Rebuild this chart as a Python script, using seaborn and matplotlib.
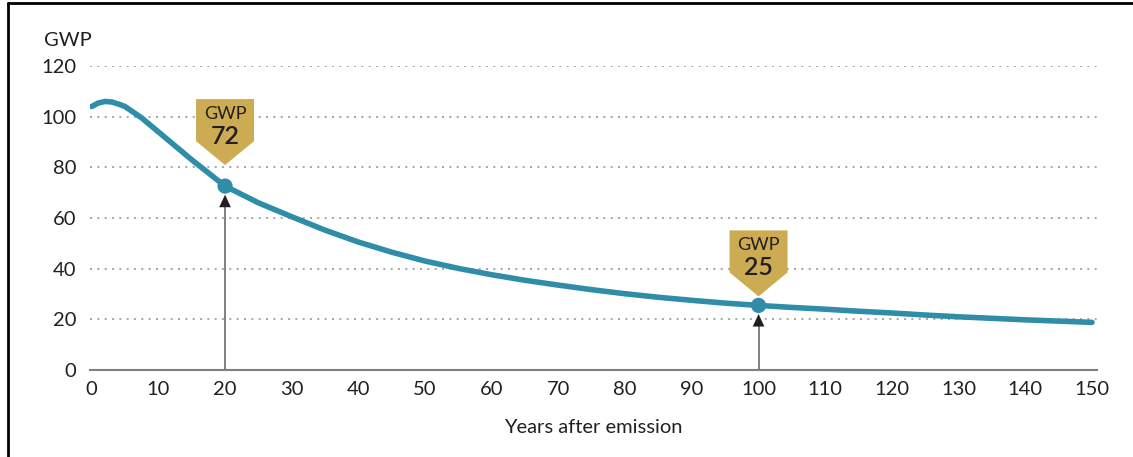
import numpy as np
import pandas as pd
import matplotlib
matplotlib.use("Agg")
import matplotlib.pyplot as plt
import matplotlib.transforms as mtransforms
from matplotlib.patches import Polygon
from matplotlib.lines import Line2D
import seaborn as sns

# curve values
years = [0, 1, 2, 3, 4, 5, 7.5, 10, 12.5, 15, 17.5, 20, 25, 30, 35, 40, 45, 50,
         55, 60, 65, 70, 75, 80, 85, 90, 95, 100, 105, 110, 115, 120, 125, 130,
         135, 140, 145, 150]
gwp = [104, 105.4, 106, 105.8, 105, 104, 99.5, 94, 88.5, 83, 77.8, 72.6, 66,
       60.5, 55.2, 50.5, 46.5, 43, 40.1, 37.6, 35.4, 33.5, 31.7, 30.1, 28.7,
       27.5, 26.4, 25.5, 24.7, 24, 23.2, 22.5, 21.7, 21, 20.4, 19.8, 19.3, 18.8]

# highlighted points
marked_years = [20, 100]
marked_gwp = [72.6, 25.5]
marked_labels = ["72", "25"]

x_ticks = list(range(0, 151, 10))
y_ticks = list(range(0, 121, 20))

line_color = "#2f8da8"
badge_color = "#ccab52"
text_color = "#231f20"

sns.set_style("white")
plt.rcParams["font.family"] = ["Lato", "DejaVu Sans"]

df = pd.DataFrame({"year": years, "gwp": gwp})
pts = pd.DataFrame({"year": marked_years, "gwp": marked_gwp})

fig = plt.figure(figsize=(11.33, 4.57), dpi=100)
ax = fig.add_axes([90 / 1133, 1 - 370 / 457, (1097 - 90) / 1133, (370 - 66) / 457])

# gridlines
for yt in y_ticks[1:]:
    ax.axhline(yt, color="#9a9a9a", lw=1.2, ls=(0, (1.2, 3.2)), zorder=0)

sns.lineplot(data=df, x="year", y="gwp", ax=ax, color=line_color, lw=4,
             solid_capstyle="round", solid_joinstyle="round", zorder=3)

# arrows from the axis up to the marked points
for xv, yv in zip(marked_years, marked_gwp):
    ax.plot([xv, xv], [0, yv - 6], color="#7f7f7f", lw=1.4, zorder=2)
    ax.annotate("", xy=(xv, yv - 3.4), xytext=(xv, yv - 7.6),
                arrowprops=dict(arrowstyle="-|>,head_length=0.9,head_width=0.42",
                                color="#231f20", lw=0.01, shrinkA=0, shrinkB=0),
                zorder=2)

sns.scatterplot(data=pts, x="year", y="gwp", ax=ax, color=line_color, s=120,
                edgecolor="none", zorder=4)

# badges (pixel offsets relative to each point)
gaps = [21, 9]
for xv, yv, lab, gap in zip(marked_years, marked_gwp, marked_labels, gaps):
    tr = mtransforms.Affine2D() + mtransforms.ScaledTranslation(xv, yv, ax.transData)
    w, rect_h, tip_h = 29, 42, 24
    verts = [(0, gap), (-w, gap + tip_h), (-w, gap + tip_h + rect_h),
             (w, gap + tip_h + rect_h), (w, gap + tip_h)]
    ax.add_patch(Polygon(verts, closed=True, transform=tr, facecolor=badge_color,
                         edgecolor="none", clip_on=False, zorder=5))
    ax.text(0, gap + tip_h + rect_h - 15, "GWP", transform=tr, ha="center",
            va="center", fontsize=13, color=text_color, zorder=6)
    ax.text(0, gap + tip_h + rect_h - 37, lab, transform=tr, ha="center",
            va="center", fontsize=18, fontweight="semibold", color=text_color,
            zorder=6)

ax.set_xlim(-0.25, 150.75)
ax.set_ylim(0, 120)
ax.set_xticks(x_ticks)
ax.set_yticks(y_ticks)
ax.tick_params(axis="x", length=5, width=1.2, color="#808080", labelsize=14.5,
               labelcolor=text_color, pad=3)
ax.tick_params(axis="y", length=0, labelsize=14.5, labelcolor=text_color, pad=10)
ax.set_xlabel("Years after emission", fontsize=14.5, color=text_color, labelpad=15)
ax.set_ylabel("")
for side in ["top", "right", "left"]:
    ax.spines[side].set_visible(False)
ax.spines["bottom"].set_color("#808080")
ax.spines["bottom"].set_linewidth(1.5)
ax.spines["bottom"].set_zorder(1)

fig.text(44 / 1133, 1 - 40 / 457, "GWP", fontsize=14.5, color=text_color,
         ha="left", va="center")

# frame lines along the left and top edges
fig.add_artist(Line2D([8 / 1133, 8 / 1133], [0, 1 - 3 / 457], color="black",
                      lw=2, transform=fig.transFigure))
fig.add_artist(Line2D([8 / 1133, 1], [1 - 3 / 457, 1 - 3 / 457], color="black",
                      lw=2, transform=fig.transFigure))

fig.savefig("out.png", dpi=100)
